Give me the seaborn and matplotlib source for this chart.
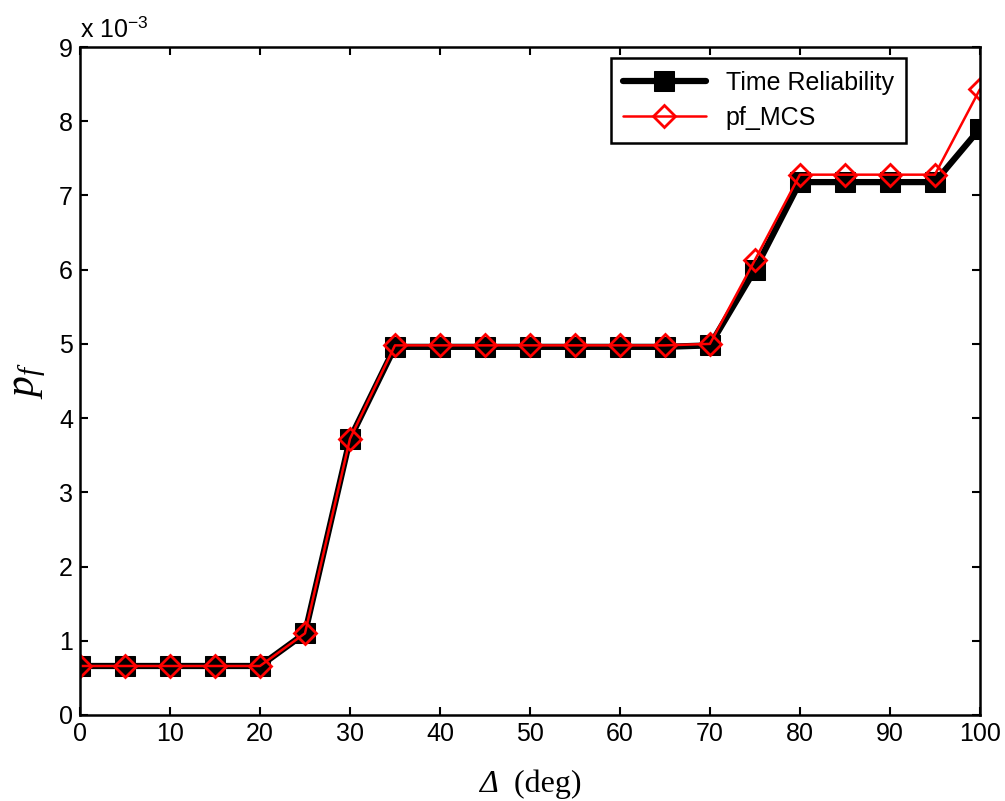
import numpy as np
import pandas as pd
import matplotlib
matplotlib.use("Agg")
import matplotlib.pyplot as plt
import seaborn as sns

# data (p_f in units of 1e-3)
delta = [0, 5, 10, 15, 20, 25, 30, 35, 40, 45, 50, 55, 60, 65, 70, 75, 80, 85, 90, 95, 100]
pf_time = [0.66, 0.66, 0.66, 0.66, 0.66, 1.10, 3.72, 4.96, 4.96, 4.96, 4.96, 4.96, 4.96, 4.96, 4.98,
           6.00, 7.18, 7.18, 7.18, 7.18, 7.90]
pf_mcs = [0.66, 0.66, 0.66, 0.66, 0.66, 1.10, 3.72, 4.98, 4.98, 4.98, 4.98, 4.98, 4.98, 4.98, 5.00,
          6.13, 7.28, 7.28, 7.28, 7.28, 8.43]

df = pd.DataFrame({"delta": delta, "time": pf_time, "mcs": pf_mcs})

sns.set_style("ticks")
plt.rcParams['font.family'] = ['Liberation Sans', 'DejaVu Sans']
plt.rcParams['mathtext.fontset'] = 'custom'
plt.rcParams['mathtext.it'] = 'Liberation Serif:italic'
plt.rcParams['mathtext.rm'] = 'Liberation Serif'
plt.rcParams['mathtext.sf'] = 'Liberation Sans'
plt.rcParams['text.color'] = 'black'
plt.rcParams['xtick.color'] = 'black'
plt.rcParams['ytick.color'] = 'black'
plt.rcParams['axes.labelcolor'] = 'black'

fig, ax = plt.subplots(figsize=(10.05, 8.01), dpi=100)
fig.subplots_adjust(left=0.0796, right=0.975, bottom=0.1074, top=0.9413)

sns.lineplot(data=df, x="delta", y="time", ax=ax, color="black", linewidth=4.5,
             marker="s", markersize=15, markerfacecolor="black", markeredgecolor="black",
             label="Time Reliability")
sns.lineplot(data=df, x="delta", y="mcs", ax=ax, color="red", linewidth=1.8,
             marker="D", markersize=11, markerfacecolor="none", markeredgecolor="red",
             markeredgewidth=2, label="pf_MCS")

ax.set_xlim(0, 100)
ax.set_ylim(0, 9)
ax.set_xticks(range(0, 101, 10))
ax.set_yticks(range(0, 10))
ax.tick_params(direction="in", length=6, width=1.5, top=True, right=True, labelsize=18, pad=5)
for s in ax.spines.values():
    s.set_visible(True)
    s.set_color("black")
    s.set_linewidth(1.8)

# x label: italic Delta followed by upright "(deg)"
ax.set_xlabel("")
t = ax.text(0.464, -0.115, "Δ", transform=ax.transAxes, fontsize=23, family="Liberation Serif",
            style="italic", ha="right", va="baseline")
ax.annotate("  (deg)", xy=(1, 0), xycoords=t, fontsize=23, family="Liberation Serif",
            ha="left", va="bottom")
ax.set_ylabel(r"$p_f$", fontsize=30, labelpad=8)
ax.text(0.0, 1.008, r"x 10$^{\mathsf{-3}}$", transform=ax.transAxes, fontsize=18, ha="left", va="bottom")

leg = ax.legend(loc="upper right", bbox_to_anchor=(0.918, 0.983), borderaxespad=0, fontsize=18,
                frameon=True, fancybox=False, edgecolor="black", handlelength=3.3,
                borderpad=0.5, labelspacing=0.45)
leg.get_frame().set_linewidth(1.8)
leg.get_frame().set_alpha(1)

plt.savefig("out.png", dpi=100)
